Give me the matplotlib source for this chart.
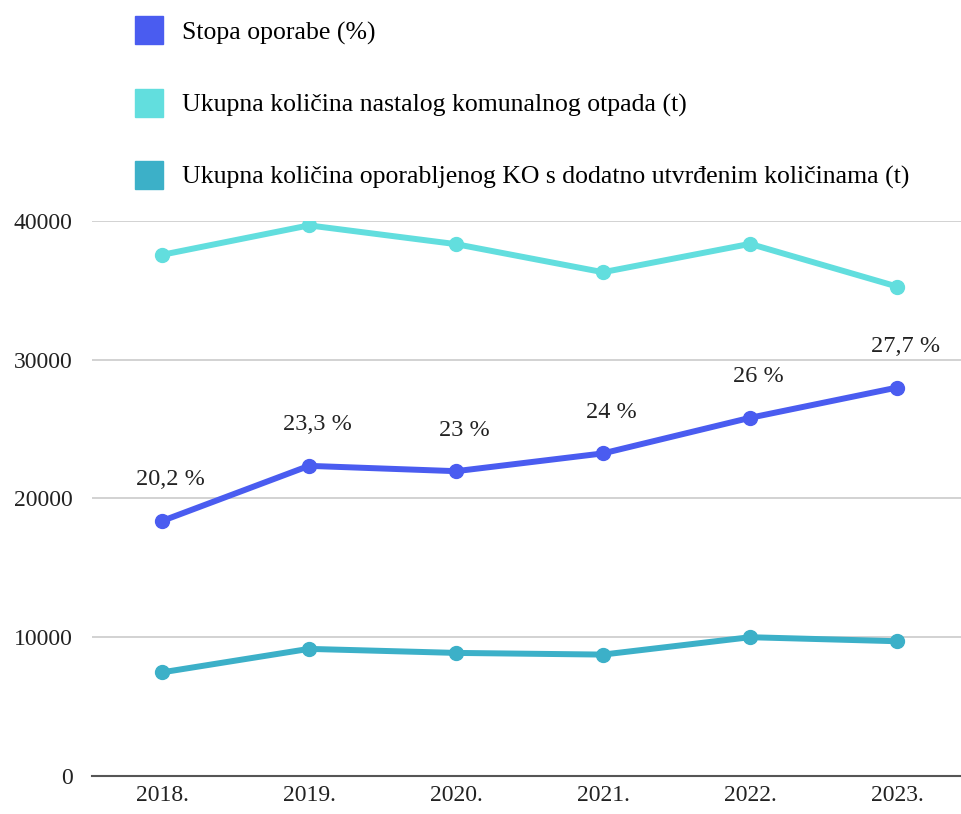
import matplotlib.pyplot as plt
from matplotlib.lines import Line2D

plt.rcParams['font.family'] = ['Liberation Serif', 'DejaVu Serif']

# data
years = ['2018.', '2019.', '2020.', '2021.', '2022.', '2023.']
stopa_oporabe = [20.2, 23.3, 23.0, 24.0, 26.0, 27.7]
stopa_labels = ['20,2 %', '23,3 %', '23 %', '24 %', '26 %', '27,7 %']
nastali_otpad = [37530, 39650, 38300, 36280, 38320, 35250]
oporabljeni_ko = [7490, 9180, 8890, 8770, 10020, 9730]
y_ticks = [0, 10000, 20000, 30000, 40000]

series_names = [
    'Stopa oporabe (%)',
    'Ukupna količina nastalog komunalnog otpada (t)',
    'Ukupna količina oporabljenog KO s dodatno utvrđenim količinama (t)',
]
c_blue = '#4a5cf0'
c_cyan = '#62dede'
c_teal = '#3cb0c8'

fig = plt.figure(figsize=(9.61, 8.14), dpi=100)
ax = fig.add_axes([0.0957, 0.0461, 0.9043, 0.683])
x = list(range(len(years)))

ax.plot(x, nastali_otpad, color=c_cyan, lw=4.3, marker='o', ms=10, zorder=3)
ax.plot(x, oporabljeni_ko, color=c_teal, lw=4.3, marker='o', ms=10, zorder=3)

ax.set_ylim(0, 40000)
ax.set_xlim(-0.476, 5.435)
ax.set_yticks(y_ticks)
ax.set_yticklabels([str(t) for t in y_ticks])
ax.set_xticks(x)
ax.set_xticklabels(years)
ax.tick_params(length=0, labelsize=17, colors='#222222')
ax.tick_params(axis='y', pad=14)
ax.tick_params(axis='x', pad=6)
ax.grid(axis='y', color='#d2d2d2', lw=1.4)
ax.set_axisbelow(True)
for s in ['top', 'right', 'left']:
    ax.spines[s].set_visible(False)
ax.spines['bottom'].set_color('#555555')
ax.spines['bottom'].set_linewidth(1.5)
ax.spines['bottom'].set_zorder(2)

# rate on a hidden secondary axis
ax2 = ax.twinx()
ax2.set_ylim(5.84, 5.84 + 40000 / 1280)
ax2.axis('off')
ax2.plot(x, stopa_oporabe, color=c_blue, lw=4.3, marker='o', ms=10, zorder=3)
for xi, v, lab in zip(x, stopa_oporabe, stopa_labels):
    ax2.annotate(lab, (xi, v), xytext=(6, 22), textcoords='offset points',
                 ha='center', va='bottom', fontsize=17.5, color='#222222')

handles = [Line2D([], [], ls='none', marker='s', ms=20, color=c)
           for c in [c_blue, c_cyan, c_teal]]
fig.legend(handles, series_names, loc='upper left', bbox_to_anchor=(0.116, 1.002),
           frameon=False, fontsize=18.5, labelspacing=1.9, handletextpad=0.75,
           handlelength=1.1)

fig.savefig('out.png', dpi=100)
